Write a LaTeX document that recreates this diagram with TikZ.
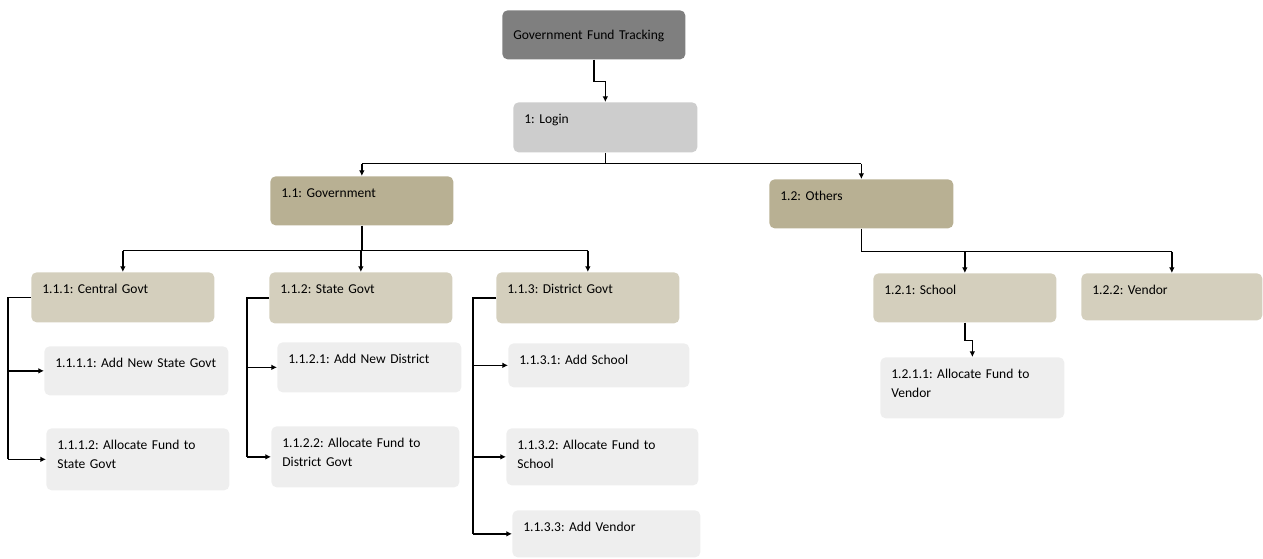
\documentclass[tikz,border=0pt]{standalone}
\usepackage{fontspec}
\setmainfont{Carlito}
\usepackage{tikz}
\usetikzlibrary{arrows.meta}
\definecolor{rootgray}{HTML}{7F7F7F}
\definecolor{logingray}{HTML}{CDCDCD}
\definecolor{tandark}{HTML}{B8B093}
\definecolor{tanlight}{HTML}{D4CFBD}
\definecolor{leafgray}{HTML}{EEEEEE}
\hbadness=10000 \hfuzz=20pt
\frenchspacing
\tikzset{
	box/.style={rounded corners=3pt, anchor=north west, inner xsep=0.22cm, inner ysep=0pt,
		align=left, text width=3.22cm, text height=0.42cm, text depth=0.56cm,
		font=\fontsize{7.7}{10.8}\selectfont},
	wire/.style={line width=0.75pt},
	link/.style={wire, -{Latex[length=3.2pt,width=3.2pt]}}
}

\begin{document}
\begin{tikzpicture}
		%%%%% START %%%%%
		\useasboundingbox (0, 0) rectangle (25.26, -11.18);
		
		\node[box, fill=rootgray, text height=0.59cm, text depth=0.39cm] (root) at (10.04, -0.20) {Government Fund Tracking};
		\node[box, fill=logingray, text width=3.24cm, text depth=0.58cm] (login) at (10.26, -2.04) {1: Login};
		
		\node[box, fill=tandark] (gov) at (5.40, -3.52) {1.1: Government};
		\node[box, fill=tandark, text width=3.24cm] (oth) at (15.38, -3.58) {1.2: Others};
		
		\node[box, fill=tanlight, text depth=0.58cm] (cen) at (0.62, -5.44) {1.1.1: Central Govt};
		\node[box, fill=tanlight, text depth=0.60cm] (sta) at (5.38, -5.44) {1.1.2: State Govt};
		\node[box, fill=tanlight, text depth=0.60cm] (dis) at (9.92, -5.44) {1.1.3: District Govt};
		\node[box, fill=tanlight] (sch) at (17.46, -5.46) {1.2.1: School};
		\node[box, fill=tanlight, text width=3.18cm, text depth=0.52cm] (ven) at (21.62, -5.46) {1.2.2: Vendor};
		
		\node[box, fill=leafgray, text width=3.24cm] (ns) at (0.88, -6.92) {1.1.1.1: Add New State Govt};
		\node[box, fill=leafgray, text depth=0.82cm] (fs) at (0.92, -8.56) {1.1.1.2: Allocate Fund to\\State Govt};
		\node[box, fill=leafgray, text width=3.24cm, text depth=0.58cm] (nd) at (5.54, -6.84) {1.1.2.1: Add New District};
		\node[box, fill=leafgray, text width=3.32cm, text depth=0.80cm] (fd) at (5.42, -8.52) {1.1.2.2: Allocate Fund to\\District Govt};
		\node[box, fill=leafgray, text width=3.18cm, text depth=0.46cm] (as) at (10.16, -6.86) {1.1.3.1: Add School};
		\node[box, fill=leafgray, text width=3.40cm, text depth=0.72cm] (fsc) at (10.12, -8.56) {1.1.3.2: Allocate Fund to\\School};
		\node[box, fill=leafgray, text width=3.32cm, text depth=0.52cm] (av) at (10.24, -10.20) {1.1.3.3: Add Vendor};
		\node[box, fill=leafgray, text width=3.24cm, text depth=0.80cm] (fv) at (17.60, -7.14) {1.2.1.1: Allocate Fund to\\Vendor};
		
		% top levels
		\draw[link] (root.south) -- ++(0, -0.44) -| (login.north);
		\draw[wire] (login.south) -- ++(0, -0.22) coordinate (lbus);
		\draw[wire] (gov.north |- lbus) -- (oth.north |- lbus);
		\draw[link] (gov.north |- lbus) -- (gov.north);
		\draw[link] (oth.north |- lbus) -- (oth.north);
		
		\draw[wire] (gov.south) -- ++(0, -0.50) coordinate (gbus);
		\draw[wire] (cen.north |- gbus) -- (dis.north |- gbus);
		\draw[link] (cen.north |- gbus) -- (cen.north);
		\draw[link] (sta.north |- gbus) -- (sta.north);
		\draw[link] (dis.north |- gbus) -- (dis.north);
		
		\draw[wire] (oth.south) -- ++(0, -0.46) coordinate (obus);
		\draw[wire] (oth.south |- obus) -- (ven.north |- obus);
		\draw[link] (sch.north |- obus) -- (sch.north);
		\draw[link] (ven.north |- obus) -- (ven.north);
		
		% side branches
		\draw[wire] (cen.west) -- ++(-0.46, 0) coordinate (cbus) -- (cbus |- fs.west);
		\draw[link] (cbus |- ns.west) -- (ns.west);
		\draw[link] (cbus |- fs.west) -- (fs.west);
		\draw[wire] (sta.west) -- ++(-0.44, 0) coordinate (sbus) -- (sbus |- fd.west);
		\draw[link] (sbus |- nd.west) -- (nd.west);
		\draw[link] (sbus |- fd.west) -- (fd.west);
		\draw[wire] (dis.west) -- ++(-0.46, 0) coordinate (dbus) -- (dbus |- av.west);
		\draw[link] (dbus |- as.west) -- (as.west);
		\draw[link] (dbus |- fsc.west) -- (fsc.west);
		\draw[link] (dbus |- av.west) -- (av.west);
		
		\draw[link] (sch.south) -- ++(0, -0.36) -| (fv.north);
		%%%%% END %%%%%
	\end{tikzpicture}
\end{document}
